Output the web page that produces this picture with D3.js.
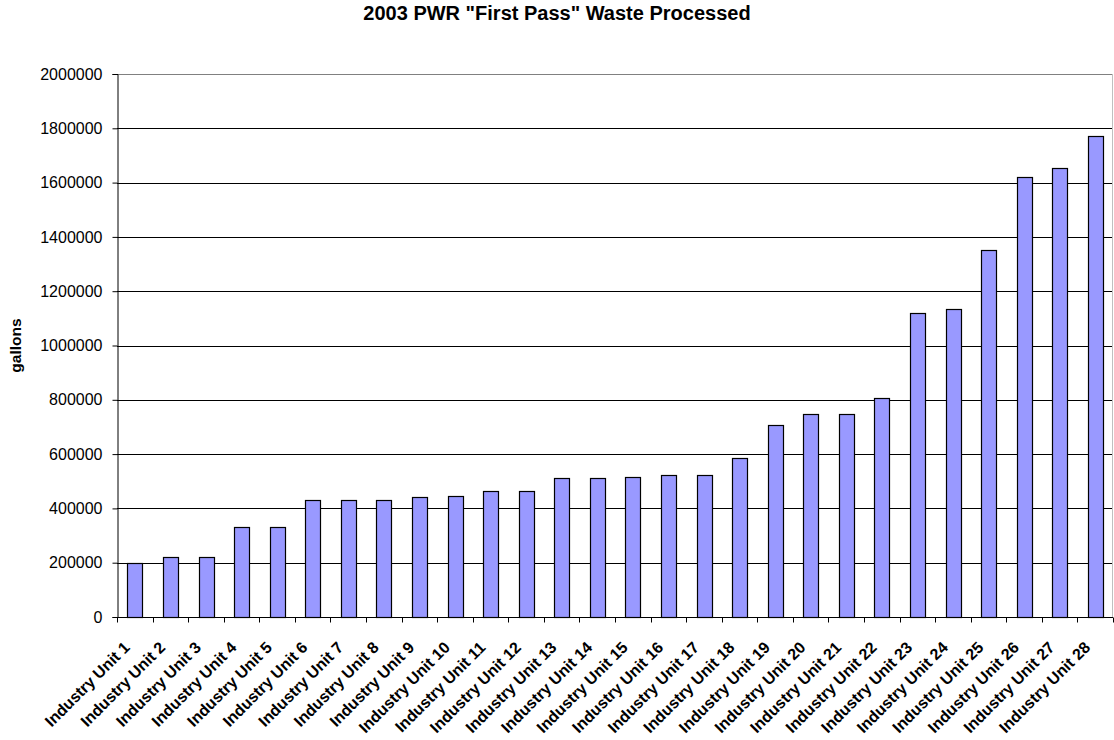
<!DOCTYPE html>
<html>
<head>
<meta charset="utf-8">
<script src="https://cdn.jsdelivr.net/npm/d3@7"></script>
<style>
  html, body { margin: 0; padding: 0; background: #fff; }
  svg { display: block; }
  text { font-family: Arial, "Liberation Sans", sans-serif; fill: #000; }
</style>
</head>
<body>
<svg id="chart" width="1114" height="740"></svg>
<script>
// Units, in the order they are plotted
const categories = [
  "Industry Unit 1", "Industry Unit 2", "Industry Unit 3", "Industry Unit 4",
  "Industry Unit 5", "Industry Unit 6", "Industry Unit 7", "Industry Unit 8",
  "Industry Unit 9", "Industry Unit 10", "Industry Unit 11", "Industry Unit 12",
  "Industry Unit 13", "Industry Unit 14", "Industry Unit 15", "Industry Unit 16",
  "Industry Unit 17", "Industry Unit 18", "Industry Unit 19", "Industry Unit 20",
  "Industry Unit 21", "Industry Unit 22", "Industry Unit 23", "Industry Unit 24",
  "Industry Unit 25", "Industry Unit 26", "Industry Unit 27", "Industry Unit 28"
];

// Gallons of first-pass waste processed in 2003
const gallons = [
  200000, 222000, 222000, 331000, 331000, 432000, 432000, 432000,
  441000, 445000, 463000, 463000, 512000, 512000, 517000, 522000,
  522000, 585000, 707000, 746000, 746000, 806000, 1121000, 1136000,
  1352000, 1622000, 1654000, 1773000
];

const yTicks = [0, 200000, 400000, 600000, 800000, 1000000, 1200000, 1400000, 1600000, 1800000, 2000000];

const titleText = '2003 PWR "First Pass" Waste Processed';
const yTitle = "gallons";

const svg = d3.select("#chart");
const plot = { left: 117, right: 1113, top: 74, bottom: 617 };

const x = d3.scaleBand()
  .domain(categories)
  .range([plot.left, plot.right])
  .paddingInner(0.59)
  .paddingOuter(0.295);

const y = d3.scaleLinear()
  .domain([0, 2000000])
  .range([plot.bottom, plot.top]);

// Horizontal gridlines
svg.append("g")
  .selectAll("line")
  .data(yTicks.filter(t => t > 0))
  .join("line")
  .attr("x1", plot.left)
  .attr("x2", plot.right)
  .attr("y1", d => Math.round(y(d)) + 0.5)
  .attr("y2", d => Math.round(y(d)) + 0.5)
  .attr("stroke", d => d === 2000000 ? "#808080" : "#000")
  .attr("stroke-width", 1);

// Right border of plot area
svg.append("line")
  .attr("x1", plot.right - 0.5).attr("x2", plot.right - 0.5)
  .attr("y1", y(2000000)).attr("y2", plot.bottom)
  .attr("stroke", "#c0c0c0");

// Bars
svg.append("g")
  .selectAll("rect")
  .data(categories.map((c, i) => ({ c, v: gallons[i] })))
  .join("rect")
  .attr("x", d => Math.round(x(d.c)) + 0.5)
  .attr("y", d => Math.round(y(d.v)) + 0.5)
  .attr("width", Math.round(x.bandwidth()))
  .attr("height", d => Math.round(y(0)) - Math.round(y(d.v)))
  .attr("fill", "#9999ff")
  .attr("stroke", "#000")
  .attr("stroke-width", 1.2);

// Y axis
const yAxis = svg.append("g")
  .attr("transform", `translate(${plot.left + 0.5},0)`)
  .call(d3.axisLeft(y).tickValues(yTicks).tickFormat(d3.format("d")).tickSizeOuter(0).tickSize(5).tickPadding(10));
yAxis.select(".domain").attr("stroke", "#000");
yAxis.selectAll(".tick line").attr("stroke", "#000");
yAxis.selectAll(".tick text")
  .attr("font-size", 16)
  .attr("font-family", "Arial, 'Liberation Sans', sans-serif")
  .attr("fill", "#000");

// X axis: ticks sit on the category boundaries
const step = x.step();
const xAxisG = svg.append("g").attr("transform", `translate(0,${Math.round(plot.bottom) + 0.5})`);
xAxisG.append("line")
  .attr("x1", plot.left).attr("x2", plot.right)
  .attr("stroke", "#000");
xAxisG.selectAll("line.tick")
  .data(d3.range(categories.length + 1))
  .join("line")
  .attr("class", "tick")
  .attr("x1", i => Math.round(plot.left + i * step) + 0.5)
  .attr("x2", i => Math.round(plot.left + i * step) + 0.5)
  .attr("y1", 0).attr("y2", 5)
  .attr("stroke", "#000");

// Category labels, rotated 45 degrees
xAxisG.selectAll("text")
  .data(categories)
  .join("text")
  .attr("transform", d => `translate(${x(d) + x.bandwidth() / 2 - 4},${31}) rotate(-45)`)
  .attr("text-anchor", "end")
  .attr("font-size", 16)
  .attr("font-weight", "bold")
  .text(d => d);

// Title
svg.append("text")
  .attr("x", 557)
  .attr("y", 20)
  .attr("text-anchor", "middle")
  .attr("font-size", 20)
  .attr("font-weight", "bold")
  .text(titleText);

// Y axis title
svg.append("text")
  .attr("transform", `translate(21,${(plot.top + plot.bottom) / 2}) rotate(-90)`)
  .attr("text-anchor", "middle")
  .attr("font-size", 15.5)
  .attr("font-weight", "bold")
  .text(yTitle);
</script>
</body>
</html>
